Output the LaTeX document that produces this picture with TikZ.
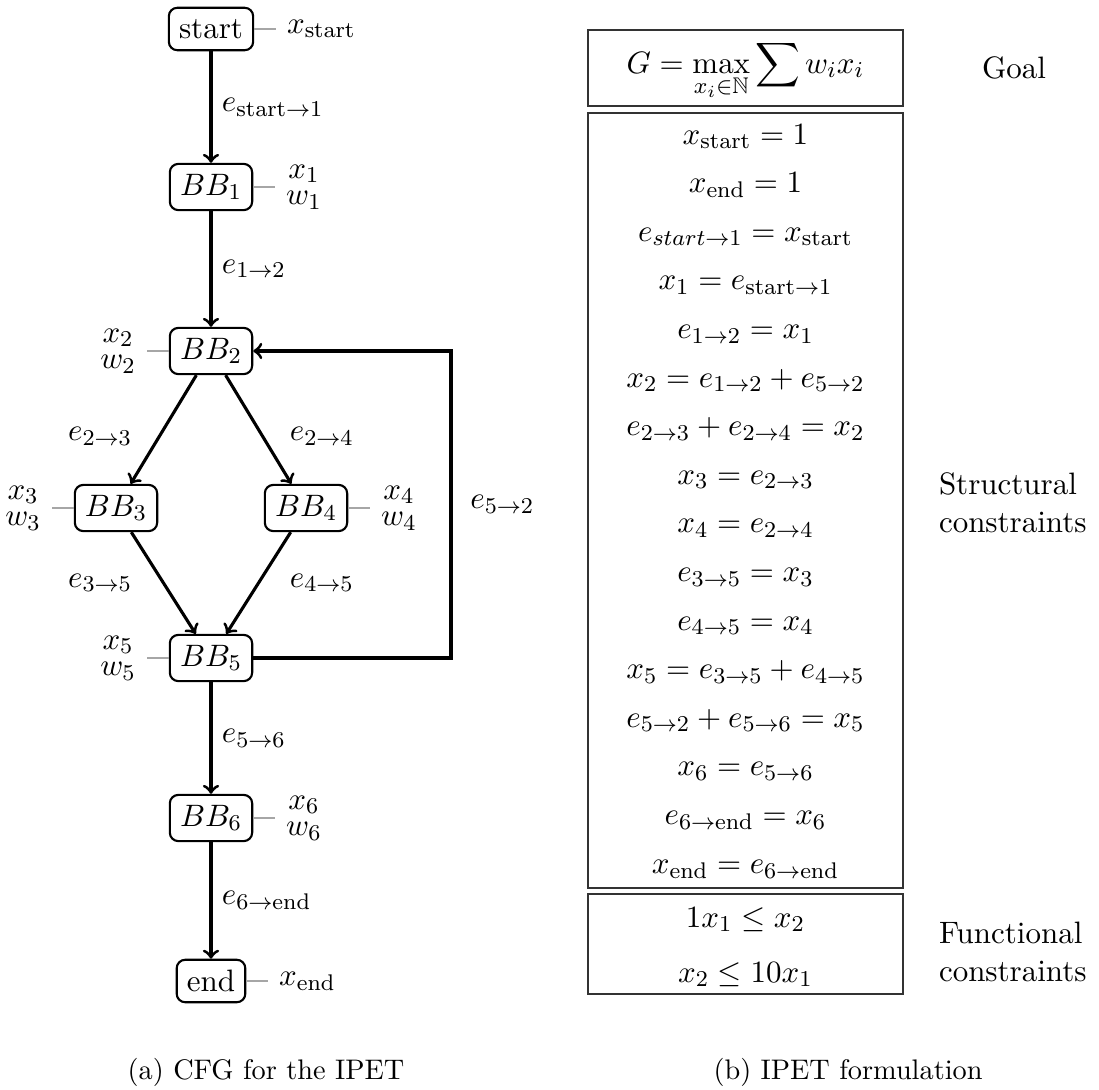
\documentclass[tikz,border=0pt]{standalone}
\usepackage{amssymb}
\begin{document}
\begin{tikzpicture}[x=0.3534pt,y=-0.3534pt,
  font=\fontsize{10.95}{13.6}\selectfont,
  bb/.style={draw, rounded corners=3pt, line width=0.75pt, inner sep=3.6pt, minimum height=15pt},
  edge/.style={->, line width=1.1pt},
  every pin/.style={inner sep=3.6pt},
  every pin edge/.style={draw=black!35, line width=0.4pt},
  pin distance=7.8pt,
  stack/.style={align=center},
  cbox/.style={draw=black!80, line width=0.5pt},
  eq/.style={anchor=base},
  lab/.style={anchor=west, align=left},
  captext/.style={anchor=base, font=\fontsize{10}{12}\selectfont}
]
\useasboundingbox (0,0) rectangle (1099,1090);

% CFG nodes
\node[bb, pin={right:$x_{\mathrm{start}}$}] (start) at (211,29) {start};
\node[bb, pin={[stack]right:{$x_1$\\[-4.2pt]$w_1$}}] (BB1) at (211,187) {$BB_1$};
\node[bb, pin={[stack]left:{$x_2$\\[-4.2pt]$w_2$}}] (BB2) at (211,351) {$BB_2$};
\node[bb, pin={[stack]left:{$x_3$\\[-4.2pt]$w_3$}}] (BB3) at (116,508) {$BB_3$};
\node[bb, pin={[stack]right:{$x_4$\\[-4.2pt]$w_4$}}] (BB4) at (306,508) {$BB_4$};
\node[bb, pin={[stack]left:{$x_5$\\[-4.2pt]$w_5$}}] (BB5) at (211,658) {$BB_5$};
\node[bb, pin={[stack]right:{$x_6$\\[-4.2pt]$w_6$}}] (BB6) at (211,818) {$BB_6$};
\node[bb, pin={right:$x_{\mathrm{end}}$}] (end) at (211,981) {end};
\coordinate (lp) at (451,0);

% CFG edges
\draw[edge] (start) -- node[midway, right] {$e_{\mathrm{start}\to 1}$} (BB1);
\draw[edge] (BB1) -- node[midway, right] {$e_{1\to 2}$} (BB2);
\draw[edge] (BB2) -- node[pos=0.565, left=5.7pt] {$e_{2\to 3}$} (BB3);
\draw[edge] (BB2) -- node[pos=0.565, right=5.7pt] {$e_{2\to 4}$} (BB4);
\draw[edge] (BB3) -- node[midway, left=7.2pt] {$e_{3\to 5}$} (BB5);
\draw[edge] (BB4) -- node[midway, right=7.2pt] {$e_{4\to 5}$} (BB5);
\draw[edge] (BB5.east) -- (BB5.east -| lp) -- node[midway, right=3pt] {$e_{5\to 2}$} (BB2.east -| lp) -- (BB2.east);
\draw[edge] (BB5) -- node[midway, right] {$e_{5\to 6}$} (BB6);
\draw[edge] (BB6) -- node[midway, right] {$e_{6\to\mathrm{end}}$} (end);

% IPET boxes
\draw[cbox] (588,30) rectangle (903,106);
\draw[cbox] (588,113) rectangle (903,888);
\draw[cbox] (588,894) rectangle (903,994);

\node[eq] (goal) at (745.5,73) {$\displaystyle G = \max_{x_i\in\mathbb{N}} \sum w_i x_i$};

\foreach \eqn [count=\k from 0] in {
  {x_{\mathrm{start}} = 1},
  {x_{\mathrm{end}} = 1},
  {e_{start\to 1} = x_{\mathrm{start}}},
  {x_1 = e_{\mathrm{start}\to 1}},
  {e_{1\to 2} = x_1},
  {x_2 = e_{1\to 2} + e_{5\to 2}},
  {e_{2\to 3} + e_{2\to 4} = x_2},
  {x_3 = e_{2\to 3}},
  {x_4 = e_{2\to 4}},
  {e_{3\to 5} = x_3},
  {e_{4\to 5} = x_4},
  {x_5 = e_{3\to 5} + e_{4\to 5}},
  {e_{5\to 2} + e_{5\to 6} = x_5},
  {x_6 = e_{5\to 6}},
  {e_{6\to\mathrm{end}} = x_6},
  {x_{\mathrm{end}} = e_{6\to\mathrm{end}}}}
  \node[eq] (s\k) at (745.5,{144+48.6*\k}) {$\eqn$};

\node[eq] (f0) at (745.5,927) {$1x_1 \le x_2$};
\node[eq] (f1) at (745.5,982) {$x_2 \le 10x_1$};

% side labels
\node[anchor=base] (goallab) at (1014,78) {Goal};
\node[lab] (structlab) at (929,503) {Structural\\constraints};
\node[lab] (funclab) at (929,952) {Functional\\constraints};

% captions
\node[captext] (capa) at (266,1079) {(a) CFG for the IPET};
\node[captext] (capb) at (848,1079) {(b) IPET formulation};
\end{tikzpicture}
\end{document}
